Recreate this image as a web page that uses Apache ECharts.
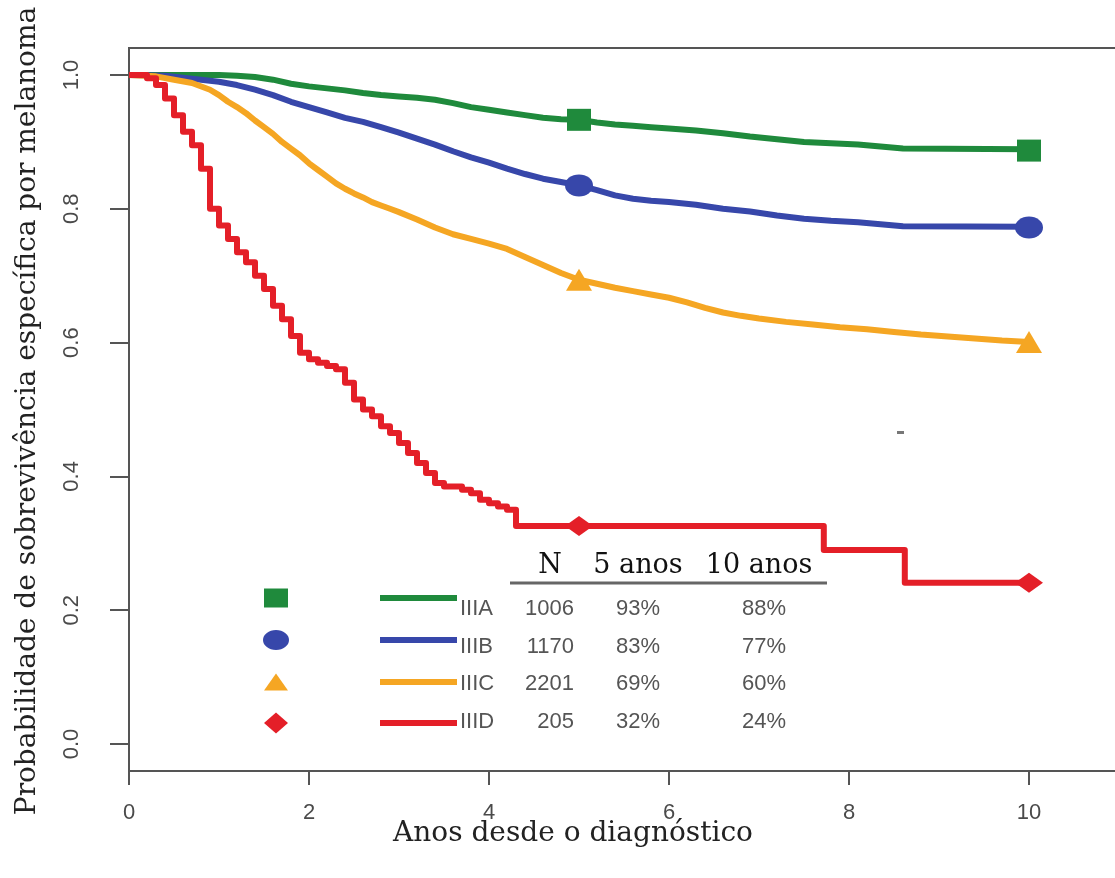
<!DOCTYPE html>
<html>
<head>
<meta charset="utf-8">
<script src="https://cdn.jsdelivr.net/npm/echarts@6/dist/echarts.min.js"></script>
<style>
  html, body { margin: 0; padding: 0; background: #fff; }
  #chart { width: 1115px; height: 878px; }
</style>
</head>
<body>
<div id="chart"></div>
<script>
// ---------- data ----------
const groups = ['IIIA', 'IIIB', 'IIIC', 'IIID'];
const nPatients = ['1006', '1170', '2201', '205'];
const surv5Label = ['93%', '83%', '69%', '32%'];
const surv10Label = ['88%', '77%', '60%', '24%'];
const colors = ['#1f8a3c', '#3747aa', '#f5a623', '#e41f28'];
const markerYears = [5, 10];
const marker5 = [0.933, 0.835, 0.694, 0.326];
const marker10 = [0.887, 0.772, 0.601, 0.241];
const xTicks = [0, 2, 4, 6, 8, 10];
const yTicks = [0.0, 0.2, 0.4, 0.6, 0.8, 1.0];

const curveIIIA = [
  [0, 1], [0.5, 1], [1.0, 1.0], [1.2, 0.999], [1.4, 0.997], [1.6, 0.993], [1.8, 0.987],
  [2.0, 0.983], [2.2, 0.98], [2.4, 0.977], [2.6, 0.973], [2.8, 0.97], [3.0, 0.968],
  [3.2, 0.966], [3.4, 0.963], [3.6, 0.958], [3.8, 0.952], [4.0, 0.948], [4.2, 0.944],
  [4.4, 0.94], [4.6, 0.936], [4.8, 0.934], [5.0, 0.933], [5.2, 0.929], [5.4, 0.926],
  [5.6, 0.924], [5.8, 0.922], [6.0, 0.92], [6.3, 0.917], [6.6, 0.913], [6.9, 0.908],
  [7.2, 0.904], [7.5, 0.9], [7.8, 0.898], [8.1, 0.896], [8.6, 0.89], [10, 0.889]
];
const curveIIIB = [
  [0, 1], [0.4, 0.999], [0.6, 0.996], [0.8, 0.993], [1.0, 0.99], [1.2, 0.985], [1.4, 0.978],
  [1.6, 0.97], [1.8, 0.96], [2.0, 0.952], [2.2, 0.944], [2.4, 0.936], [2.6, 0.93],
  [2.8, 0.922], [3.0, 0.914], [3.2, 0.905], [3.4, 0.896], [3.6, 0.886], [3.8, 0.877],
  [4.0, 0.869], [4.2, 0.86], [4.4, 0.852], [4.6, 0.845], [4.8, 0.84], [5.0, 0.835],
  [5.2, 0.828], [5.4, 0.82], [5.6, 0.815], [5.8, 0.812], [6.0, 0.81], [6.3, 0.806],
  [6.6, 0.8], [6.9, 0.796], [7.2, 0.79], [7.5, 0.785], [7.8, 0.782], [8.1, 0.78],
  [8.6, 0.774], [10, 0.773]
];
const curveIIIC = [
  [0, 1], [0.3, 0.998], [0.5, 0.993], [0.7, 0.988], [0.9, 0.978], [1.0, 0.97], [1.1, 0.96],
  [1.2, 0.952], [1.3, 0.943], [1.4, 0.932], [1.5, 0.922], [1.6, 0.912], [1.7, 0.9],
  [1.8, 0.89], [1.9, 0.88], [2.0, 0.868], [2.1, 0.858], [2.2, 0.848], [2.3, 0.838],
  [2.4, 0.83], [2.5, 0.823], [2.6, 0.817], [2.7, 0.81], [2.8, 0.805], [2.9, 0.8],
  [3.0, 0.795], [3.2, 0.784], [3.4, 0.772], [3.6, 0.762], [3.8, 0.755], [4.0, 0.748],
  [4.2, 0.74], [4.4, 0.728], [4.6, 0.716], [4.8, 0.704], [5.0, 0.694], [5.2, 0.688],
  [5.4, 0.682], [5.6, 0.677], [5.8, 0.672], [6.0, 0.667], [6.2, 0.66], [6.4, 0.652],
  [6.6, 0.645], [6.8, 0.64], [7.0, 0.636], [7.3, 0.631], [7.6, 0.627], [7.9, 0.623],
  [8.2, 0.62], [8.5, 0.616], [8.8, 0.612], [9.1, 0.609], [9.4, 0.606], [9.7, 0.603],
  [10, 0.601]
];
const curveIIID = [
  [0, 1], [0.1, 1], [0.2, 0.995], [0.3, 0.985], [0.4, 0.965], [0.5, 0.94], [0.6, 0.915],
  [0.7, 0.895], [0.8, 0.86], [0.9, 0.8], [1.0, 0.775], [1.1, 0.755], [1.2, 0.735],
  [1.3, 0.72], [1.4, 0.7], [1.5, 0.68], [1.6, 0.655], [1.7, 0.635], [1.8, 0.61],
  [1.9, 0.585], [2.0, 0.575], [2.1, 0.57], [2.2, 0.565], [2.3, 0.56], [2.4, 0.54],
  [2.5, 0.515], [2.6, 0.5], [2.7, 0.49], [2.8, 0.475], [2.9, 0.465], [3.0, 0.45],
  [3.1, 0.435], [3.2, 0.42], [3.3, 0.405], [3.4, 0.39], [3.5, 0.385], [3.7, 0.38],
  [3.8, 0.375], [3.9, 0.365], [4.0, 0.36], [4.1, 0.355], [4.2, 0.35], [4.3, 0.326],
  [7.72, 0.29], [8.62, 0.241], [10, 0.241]
];
const curves = [curveIIIA, curveIIIB, curveIIIC, curveIIID];
const stepped = [false, false, false, true];

// ---------- styles ----------
const symbols = ['rect', 'circle', 'triangle', 'diamond'];
const symbolSizes = [[24, 22], [28, 22], [26, 22], [28, 20]];
const serif = '"DejaVu Serif", "Liberation Serif", serif';
const sans = '"Liberation Sans", Arial, sans-serif';
const tickGray = '#4a4a4a';

const chart = echarts.init(document.getElementById('chart'), null, { renderer: 'canvas' });

const series = [];
curves.forEach((c, i) => {
  series.push({
    name: groups[i], type: 'line', step: stepped[i] ? 'end' : false, xAxisIndex: 1, yAxisIndex: 1,
    data: c, showSymbol: false, symbol: 'none', clip: false, silent: true,
    lineStyle: { color: colors[i], width: 6, join: 'round' }, z: 3 + i
  });
});
curves.forEach((c, i) => {
  series.push({
    name: groups[i] + ' marcas', type: 'scatter', xAxisIndex: 1, yAxisIndex: 1,
    data: [[markerYears[0], marker5[i]], [markerYears[1], marker10[i]]],
    symbol: symbols[i], symbolSize: symbolSizes[i], clip: false, silent: true,
    itemStyle: { color: colors[i], opacity: 1 }, z: 10
  });
});

// legend / table graphics
const graphics = [];
const legSymX = 276, lineX0 = 380, lineX1 = 457;
const rowLineY = [598, 640, 682, 723];
const rowTextY = [609, 647, 684, 722];
const legSymSize = [[24, 19], [26, 20], [24, 17], [24, 21]];
groups.forEach((g, i) => {
  const y = rowLineY[i];
  const [w, h] = legSymSize[i];
  if (i === 0) graphics.push({ type: 'rect', shape: { x: legSymX - w / 2, y: y - h / 2, width: w, height: h }, style: { fill: colors[i] } });
  if (i === 1) graphics.push({ type: 'ellipse', shape: { cx: legSymX, cy: y, rx: w / 2, ry: h / 2 }, style: { fill: colors[i] } });
  if (i === 2) graphics.push({ type: 'polygon', shape: { points: [[legSymX, y - h / 2], [legSymX + w / 2, y + h / 2], [legSymX - w / 2, y + h / 2]] }, style: { fill: colors[i] } });
  if (i === 3) graphics.push({ type: 'polygon', shape: { points: [[legSymX, y - h / 2], [legSymX + w / 2, y], [legSymX, y + h / 2], [legSymX - w / 2, y]] }, style: { fill: colors[i] } });
  graphics.push({ type: 'line', shape: { x1: lineX0, y1: y, x2: lineX1, y2: y }, style: { stroke: colors[i], lineWidth: 6 } });
  const ty = rowTextY[i];
  const tstyle = { fill: '#555', font: '22px ' + sans, textVerticalAlign: 'middle' };
  graphics.push({ type: 'text', x: 460, y: ty, style: Object.assign({ text: g, textAlign: 'left' }, tstyle) });
  graphics.push({ type: 'text', x: 574, y: ty, style: Object.assign({ text: nPatients[i], textAlign: 'right' }, tstyle) });
  graphics.push({ type: 'text', x: 638, y: ty, style: Object.assign({ text: surv5Label[i], textAlign: 'center' }, tstyle) });
  graphics.push({ type: 'text', x: 764, y: ty, style: Object.assign({ text: surv10Label[i], textAlign: 'center' }, tstyle) });
});
const headStyle = { fill: '#111', font: '27px ' + serif, textVerticalAlign: 'middle', textAlign: 'center' };
graphics.push({ type: 'text', x: 550, y: 566, style: Object.assign({ text: 'N' }, headStyle) });
graphics.push({ type: 'text', x: 638, y: 566, style: Object.assign({ text: '5 anos' }, headStyle) });
graphics.push({ type: 'text', x: 759, y: 566, style: Object.assign({ text: '10 anos' }, headStyle) });
graphics.push({ type: 'line', shape: { x1: 510, y1: 583, x2: 827, y2: 583 }, style: { stroke: '#666', lineWidth: 3 } });
// small stray mark in the plot area
graphics.push({ type: 'rect', shape: { x: 897, y: 431, width: 7, height: 3 }, style: { fill: '#777' } });
// axis titles
graphics.push({ type: 'text', x: 573, y: 834, style: { text: 'Anos desde o diagnóstico', fill: '#222', font: '28px ' + serif, textAlign: 'center', textVerticalAlign: 'middle' } });
graphics.push({ type: 'text', x: 28, y: 411, rotation: Math.PI / 2, style: { text: 'Probabilidade de sobrevivência específica por melanoma', fill: '#222', font: '28px ' + serif, textAlign: 'center', textVerticalAlign: 'middle' } });

const option = {
  backgroundColor: '#fff',
  animation: false,
  grid: [
    { left: 129, top: 48, width: 990, height: 723, show: true, borderColor: '#555', borderWidth: 2,
      backgroundColor: 'transparent', containLabel: false, outerBoundsMode: 'none' },
    { left: 129, top: 75, width: 900, height: 669, show: false, containLabel: false, outerBoundsMode: 'none' }
  ],
  xAxis: [
    {
      gridIndex: 0, type: 'value', min: 0, max: 11, interval: 2, position: 'bottom',
      axisLine: { show: false, onZero: false },
      axisTick: { show: true, length: 14, inside: false, lineStyle: { color: '#555', width: 2 } },
      axisLabel: { show: true, margin: 31, color: tickGray, fontSize: 22, fontFamily: sans,
        formatter: v => (xTicks.indexOf(v) >= 0 ? String(v) : '') },
      splitLine: { show: false }
    },
    { gridIndex: 1, type: 'value', min: xTicks[0], max: xTicks[xTicks.length - 1], show: false }
  ],
  yAxis: [
    { gridIndex: 0, type: 'value', min: -0.04, max: 1.04, show: false },
    {
      gridIndex: 1, type: 'value', min: yTicks[0], max: yTicks[yTicks.length - 1], interval: 0.2,
      axisLine: { show: false, onZero: false },
      axisTick: { show: true, length: 19, inside: false, lineStyle: { color: '#555', width: 2 } },
      axisLabel: { show: true, rotate: 90, margin: 46, color: tickGray, fontSize: 22, fontFamily: sans,
        formatter: v => v.toFixed(1) },
      splitLine: { show: false }
    }
  ],
  series: series,
  graphic: { elements: graphics }
};
chart.setOption(option);
</script>
</body>
</html>
